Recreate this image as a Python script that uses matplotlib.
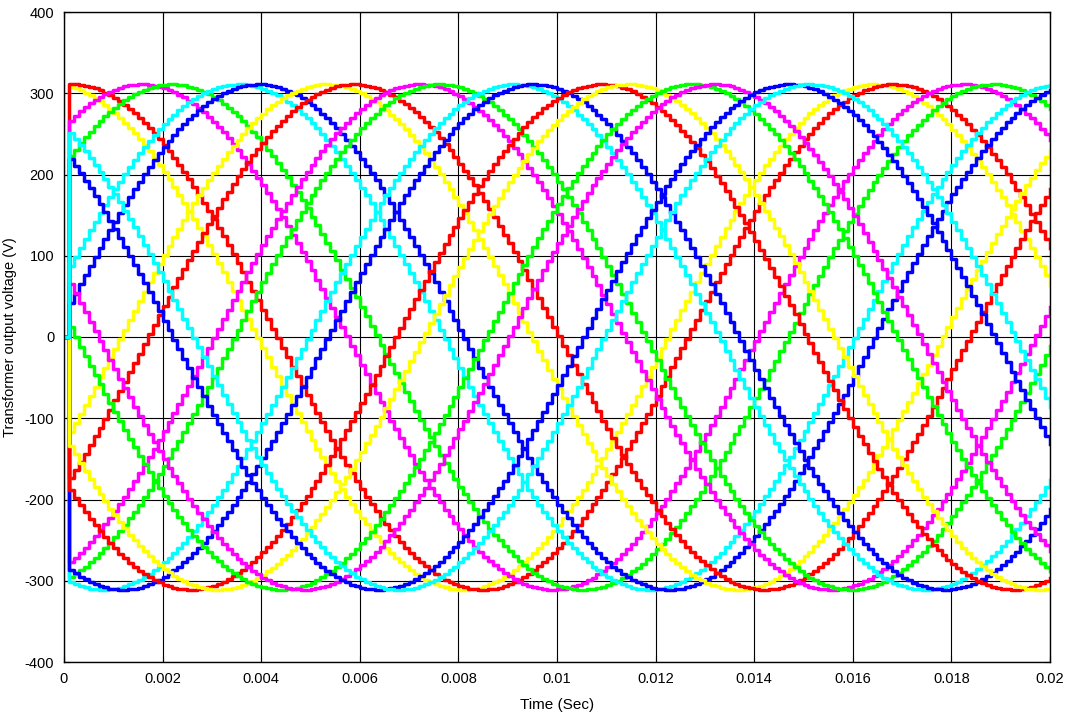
import numpy as np
import matplotlib
matplotlib.use('Agg')
import matplotlib.pyplot as plt

# === DATA ===
amplitude = 311.0          # V, peak of each phase
freq = 60.0                # Hz
sample_time = 1e-4         # s, staircase step
t_end = 0.02
# time of the positive peak of each of the 18 phase voltages, with its trace colour
peak_times = [-0.00028, 0.00012, 0.00154, 0.00215, 0.00351, 0.00391,
              0.00529, 0.00584, 0.00718, 0.00759, 0.00909, 0.00949,
              0.01087, 0.01142, 0.01270, 0.01316, 0.01467, 0.01509]
trace_colors = ['#ffff00', '#ff0000', '#ff00ff', '#00ff00', '#00ffff', '#0000ff',
                '#ffff00', '#ff0000', '#ff00ff', '#00ff00', '#00ffff', '#0000ff',
                '#ff0000', '#ffff00', '#00ff00', '#ff00ff', '#0000ff', '#00ffff']
initial_value = 0.0

x_ticks = [0, 0.002, 0.004, 0.006, 0.008, 0.01, 0.012, 0.014, 0.016, 0.018, 0.02]
x_ticklabels = ['0', '0.002', '0.004', '0.006', '0.008', '0.01', '0.012',
                '0.014', '0.016', '0.018', '0.02']
y_ticks = [-400, -300, -200, -100, 0, 100, 200, 300, 400]

plt.rcParams['font.family'] = ['Liberation Sans', 'DejaVu Sans']
plt.rcParams['axes.unicode_minus'] = False

fig = plt.figure(figsize=(10.71, 7.23), dpi=100)
ax = fig.add_axes([64 / 1071, 1 - 662 / 723, (1050 - 64) / 1071, (662 - 12) / 723])

t = np.arange(0, t_end + sample_time, sample_time)
for tp, col in zip(peak_times, trace_colors):
    v = amplitude * np.cos(2 * np.pi * freq * (t - tp))
    v[0] = initial_value
    ax.step(t, v, where='post', color=col, linewidth=2.5)

ax.set_xlim(0, t_end)
ax.set_ylim(-400, 400)
ax.set_xticks(x_ticks)
ax.set_xticklabels(x_ticklabels)
ax.set_yticks(y_ticks)
ax.grid(True, color='black', linewidth=0.8)
ax.set_axisbelow(True)
ax.tick_params(direction='in', top=True, right=True, length=4, labelsize=10.5, pad=7)
for s in ax.spines.values():
    s.set_linewidth(1.0)
ax.set_xlabel('Time (Sec)', fontsize=11, labelpad=9)
ax.set_ylabel('Transformer output voltage (V)', fontsize=10.5)
ax.yaxis.set_label_coords(-47 / 986, 0.5)

fig.savefig('out.png', dpi=100)
